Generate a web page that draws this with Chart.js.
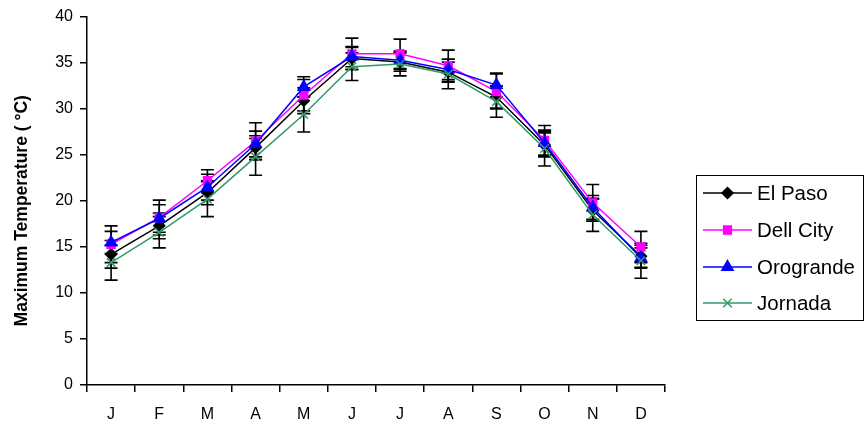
<!DOCTYPE html>
<html>
<head>
<meta charset="utf-8">
<script src="https://cdn.jsdelivr.net/npm/chart.js@4.4.1/dist/chart.umd.min.js"></script>
<style>
  html, body { margin: 0; padding: 0; background: #fff; }
  #wrap { width: 864px; height: 432px; }
</style>
</head>
<body>
<div id="wrap"><canvas id="c" width="864" height="432"></canvas></div>
<script>
// Monthly maximum temperature, four stations
const months = ['J', 'F', 'M', 'A', 'M', 'J', 'J', 'A', 'S', 'O', 'N', 'D'];
const yTicks = [0, 5, 10, 15, 20, 25, 30, 35, 40];

const elPaso    = [14.2, 17.3, 20.9, 25.8, 30.9, 35.5, 35.1, 34.0, 31.3, 26.1, 19.0, 14.0];
const dellCity  = [15.3, 18.2, 22.2, 26.5, 31.5, 36.0, 36.0, 34.7, 31.9, 26.6, 19.8, 15.0];
const orogrande = [15.5, 18.1, 21.5, 26.2, 32.4, 35.7, 35.3, 34.3, 32.6, 26.3, 19.3, 13.8];
const jornada   = [13.3, 16.6, 20.2, 24.8, 29.4, 34.6, 34.9, 33.8, 30.8, 25.7, 18.5, 13.5];

// +/- error for each series
const elPasoErr    = [1.5, 1.4, 1.3, 1.3, 1.4, 1.2, 1.0, 1.1, 1.2, 1.3, 1.2, 1.2];
const dellCityErr  = [2.0, 1.9, 1.2, 2.0, 1.7, 1.7, 1.6, 1.7, 1.9, 1.6, 2.0, 1.7];
const orograndeErr = [1.2, 1.5, 1.4, 1.4, 1.1, 1.1, 1.0, 1.1, 1.3, 1.4, 1.3, 1.1];
const jornadaErr   = [1.9, 1.7, 1.9, 2.0, 1.9, 1.5, 1.3, 1.6, 1.7, 1.9, 1.8, 1.9];

const FONT = 'Arial, "Liberation Sans", sans-serif';

const series = [
    { label: 'El Paso',   data: elPaso,    err: elPasoErr,    color: '#000000', style: 'rectRot',  radius: 5.5, order: 3 },
    { label: 'Dell City', data: dellCity,  err: dellCityErr,  color: '#FF00FF', style: 'rect',     radius: 5.5, order: 2 },
    { label: 'Orogrande', data: orogrande, err: orograndeErr, color: '#0000FF', style: 'triangle', radius: 6.5, order: 1 },
    { label: 'Jornada',   data: jornada,   err: jornadaErr,   color: '#339966', style: 'crossRot', radius: 6, order: 0 }
];

// error bars, drawn under the lines and markers
const errorBars = {
    id: 'errorBars',
    beforeDatasetsDraw: function (chart) {
        const ctx = chart.ctx;
        const x = chart.scales.x;
        const y = chart.scales.y;
        ctx.save();
        ctx.strokeStyle = '#000';
        ctx.lineWidth = 1.6;
        series.forEach(function (s) {
            s.data.forEach(function (v, i) {
                const px = x.getPixelForValue(i);
                const top = y.getPixelForValue(v + s.err[i]);
                const bot = y.getPixelForValue(v - s.err[i]);
                ctx.beginPath();
                ctx.moveTo(px, top); ctx.lineTo(px, bot);
                ctx.moveTo(px - 6.5, top); ctx.lineTo(px + 6.5, top);
                ctx.moveTo(px - 6.5, bot); ctx.lineTo(px + 6.5, bot);
                ctx.stroke();
            });
        });
        ctx.restore();
    }
};

// boxed legend on the right, cut by the canvas edge like the original
const boxLegend = {
    id: 'boxLegend',
    afterDraw: function (chart) {
        const ctx = chart.ctx;
        ctx.save();
        ctx.strokeStyle = '#000';
        ctx.lineWidth = 1;
        ctx.strokeRect(696.5, 175.5, 167, 145);
        const rows = [193, 230, 267, 303];
        series.forEach(function (s, i) {
            const yy = rows[i];
            ctx.strokeStyle = s.color;
            ctx.lineWidth = 1.5;
            ctx.beginPath();
            ctx.moveTo(703, yy); ctx.lineTo(752, yy);
            ctx.stroke();
            ctx.fillStyle = s.color;
            Chart.helpers.drawPoint(ctx, {
                pointStyle: s.style, radius: s.radius, borderWidth: 1.5, rotation: 0
            }, 727.5, yy);
            ctx.fillStyle = '#000';
            ctx.font = '20.5px ' + FONT;
            ctx.textBaseline = 'middle';
            ctx.textAlign = 'left';
            ctx.fillText(s.label, 757, yy + 1);
        });
        ctx.restore();
    }
};

new Chart(document.getElementById('c').getContext('2d'), {
    type: 'line',
    data: {
        labels: months,
        datasets: series.map(function (s) {
            return {
                label: s.label,
                data: s.data,
                order: s.order,
                borderColor: s.color,
                backgroundColor: s.color,
                borderWidth: 1.5,
                tension: 0,
                pointStyle: s.style,
                pointRadius: s.radius,
                pointBackgroundColor: s.color,
                pointBorderColor: s.color,
                pointBorderWidth: 1.5
            };
        })
    },
    options: {
        responsive: false,
        animation: false,
        events: [],
        layout: { padding: { left: 9, top: 17, right: 199, bottom: 0 } },
        plugins: {
            legend: { display: false },
            tooltip: { enabled: false }
        },
        scales: {
            x: {
                type: 'category',
                offset: true,
                grid: { offset: true, display: true, drawOnChartArea: false, color: '#000', tickColor: '#000', tickLength: 7, lineWidth: 1.5 },
                border: { color: '#000', width: 1.5 },
                ticks: { color: '#000', font: { family: FONT, size: 16 }, padding: 13, maxRotation: 0, autoSkip: false },
                afterFit: function (scale) { scale.height = 47; }
            },
            y: {
                min: 0,
                max: 40,
                afterBuildTicks: function (scale) { scale.ticks = yTicks.map(function (v) { return { value: v }; }); },
                grid: { display: true, drawOnChartArea: false, color: '#000', tickColor: '#000', tickLength: 7, lineWidth: 1.5 },
                border: { color: '#000', width: 1.5 },
                ticks: { color: '#000', font: { family: FONT, size: 16 }, padding: 7 },
                title: {
                    display: true,
                    // trailing spaces nudge the title down, as in the original
                    text: 'Maximum Temperature ( °C)    ',
                    color: '#000',
                    font: { family: FONT, size: 17.5, weight: 'bold' },
                    padding: { top: 3, bottom: 4 }
                },
                afterFit: function (scale) { scale.width = 78; }
            }
        }
    },
    plugins: [errorBars, boxLegend]
});
</script>
</body>
</html>
